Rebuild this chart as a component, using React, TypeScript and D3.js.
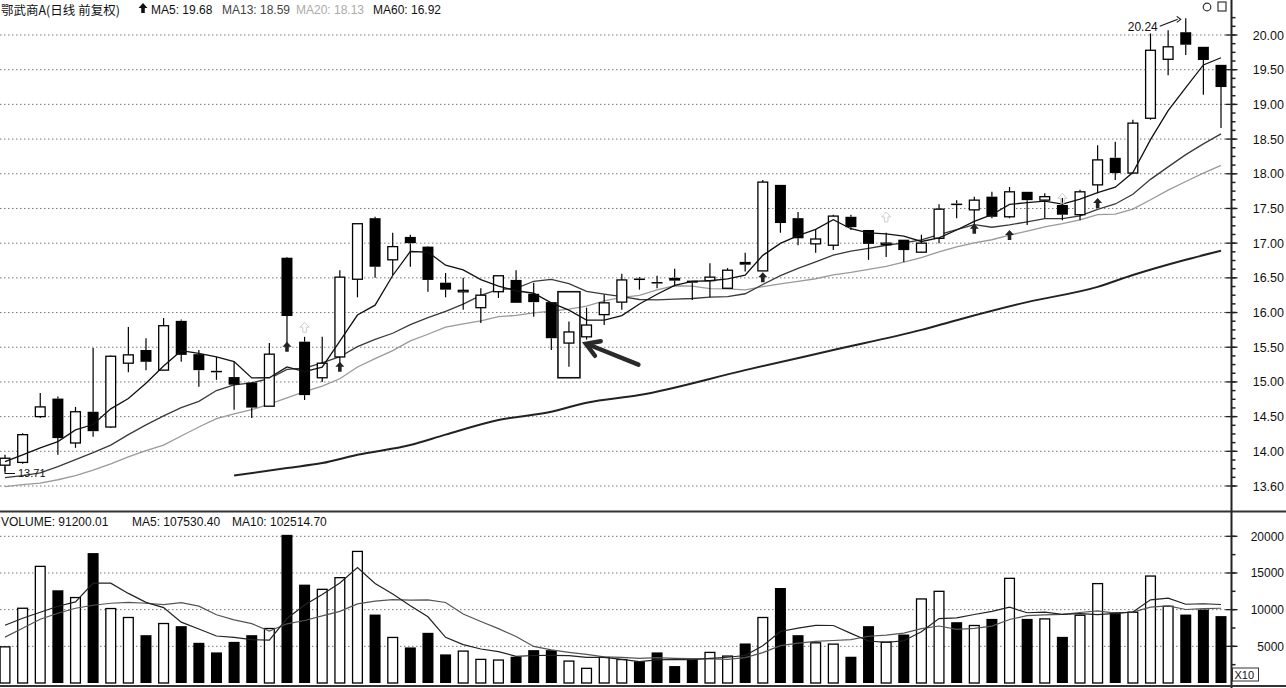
import React from "react";
import * as d3 from "d3";

// ---------------- DATA ----------------
const opens = [13.80,13.84,14.50,14.76,14.12,14.57,14.35,15.27,15.46,15.17,15.88,15.40,15.16,15.07,14.99,14.65,16.79,15.58,15.06,15.36,16.48,17.36,16.76,17.09,16.95,16.43,16.30,16.07,16.30,16.47,16.27,16.15,15.56,15.65,15.97,16.15,16.49,16.44,16.50,16.46,16.46,16.35,16.73,16.60,17.84,17.36,16.99,16.97,17.38,17.19,16.98,17.05,16.87,17.07,17.57,17.48,17.67,17.38,17.74,17.62,17.55,17.41,17.84,18.23,18.01,18.80,19.65,20.04,19.83,19.57];
const highs = [13.95,14.26,14.84,14.79,14.64,15.49,15.38,15.79,15.63,15.92,15.90,15.46,15.36,15.29,15.00,15.56,16.80,15.65,15.65,16.61,17.29,17.38,17.15,17.12,16.96,16.57,16.50,16.35,16.53,16.61,16.43,16.15,15.87,16.07,16.26,16.56,16.51,16.53,16.63,16.46,16.71,16.64,16.86,17.91,17.84,17.45,17.20,17.41,17.41,17.19,17.15,17.05,17.12,17.56,17.62,17.67,17.74,17.81,17.74,17.72,17.65,17.77,18.41,18.46,18.78,20.02,20.07,20.24,19.83,19.57];
const lows = [13.71,13.82,14.48,13.95,14.05,14.21,14.34,15.14,15.17,15.17,15.29,14.93,15.03,14.60,14.48,14.65,15.56,14.74,15.00,15.27,16.22,16.50,16.54,16.66,16.30,16.22,16.04,15.85,16.21,16.14,15.94,15.46,15.22,15.61,15.82,16.04,16.33,16.35,16.38,16.18,16.22,16.35,16.59,16.60,17.15,16.97,16.86,16.90,17.19,16.76,16.80,16.73,16.86,17.00,17.36,17.23,17.36,17.36,17.26,17.36,17.33,17.33,17.72,17.91,18.01,18.78,19.42,19.71,19.14,18.66];
const closes = [13.90,14.24,14.64,14.19,14.57,14.29,15.37,15.39,15.29,15.81,15.39,15.17,15.14,14.96,14.63,15.40,15.95,14.81,15.27,16.51,17.28,16.66,16.95,17.00,16.47,16.33,16.32,16.25,16.53,16.14,16.15,15.63,15.72,15.82,16.14,16.47,16.47,16.42,16.46,16.43,16.51,16.61,16.69,17.88,17.29,17.07,17.06,17.39,17.23,16.99,17.00,16.90,17.00,17.49,17.56,17.62,17.38,17.74,17.62,17.67,17.41,17.74,18.20,18.01,18.73,19.78,19.83,19.86,19.64,19.25];
const volumes = [4930,10190,15900,12640,11650,17710,10150,8930,6520,8110,7750,5480,4170,5610,6520,7430,20200,13410,12770,14360,17940,9330,6210,4850,6840,3900,4350,3220,3130,3580,4480,4480,2990,2000,3490,3200,2950,4170,2310,3220,4170,3670,5390,8930,12950,6520,5480,5300,3580,7750,5570,6610,11460,12500,8290,7840,8740,14270,8740,8740,6290,9240,13550,9650,9650,14580,10460,9330,10010,9120];

// moving-average values before a full window is available
const ma5Lead = [13.85,13.95,14.05,14.14];
const ma13Lead = [13.62,13.65,13.69,13.78,13.88,13.98,14.09,14.24,14.38,14.51,14.63,14.72];
const ma20Lead = [13.49,13.52,13.54,13.59,13.65,13.73,13.82,13.92,14.01,14.09,14.22,14.35,14.47,14.54,14.60,14.68,14.77,14.86,14.94];
const ma60Idx = [13,16,18,20,23,25,28,31,33,36,42,47,52,54,58,62,64,67,69];
const ma60Val = [13.65,13.76,13.83,13.95,14.09,14.24,14.45,14.57,14.70,14.81,15.17,15.46,15.75,15.89,16.15,16.37,16.54,16.76,16.89];
const volMa5Lead = [7880,8830,9650,10460];
const volMa10Lead = [6250,7470,8700,9510,10190,10600,10870,11000,10870];

const priceTicks = [13.5,14,14.5,15,15.5,16,16.5,17,17.5,18,18.5,19,19.5,20];
const priceTickLabels = ["13.60","14.00","14.50","15.00","15.50","16.00","16.50","17.00","17.50","18.00","18.50","19.00","19.50","20.00"];
const volTicks = [5000,10000,15000,20000];
const volTickLabels = ["5000","10000","15000","20000"];

const upArrowIdx = [16,19,43,55,57,62];
const upArrowPrice = [15.58,15.29,16.58,17.28,17.19,17.65];
const faintArrowIdx = [17,50,60];
const faintArrowPrice = [15.86,17.45,17.72];

const titleText = "鄂武商A(日线 前复权)";
const maLabels = ["MA5: 19.68","MA13: 18.59","MA20: 18.13","MA60: 16.92"];
const volLabels = ["VOLUME: 91200.01","MA5: 107530.40","MA10: 102514.70"];

const boxIdx = 32;
const boxTop = 16.30, boxBottom = 15.06;

// ---------------- HELPERS ----------------
function rolling(vals: number[], n: number, lead: number[]) {
  return vals.map((_, i) => {
    if (i < n - 1) return lead[i];
    return d3.mean(vals.slice(i - n + 1, i + 1)) as number;
  });
}

export default function App() {
  const W = 1286, H = 688;
  const axisX = 1231.5;
  const n = closes.length;
  const x = d3.scaleLinear().domain([0, n - 1]).range([5, 1221]);
  const y = d3.scaleLinear().domain([13.5, 20]).range([486, 35]);
  const yv = d3.scaleLinear().domain([0, 20000]).range([683, 536.3]);
  const bw = 11;

  const ma5 = rolling(closes, 5, ma5Lead);
  const ma13 = rolling(closes, 13, ma13Lead);
  const ma20 = rolling(closes, 20, ma20Lead);
  const vma5 = rolling(volumes, 5, volMa5Lead);
  const vma10 = rolling(volumes, 10, volMa10Lead);

  const pline = d3.line<number>().x((_, i) => x(i)).y((d) => y(d));
  const vline = d3.line<number>().x((_, i) => x(i)).y((d) => yv(d));
  const ma60Line = d3
    .line<number>()
    .x((_, i) => x(ma60Idx[i]))
    .y((d) => y(d))
    .curve(d3.curveMonotoneX);

  const minorPrice = d3.range(13.5, 20.3, 0.125);
  const minorVol = d3.range(2500, 21000, 2500);

  const maxI = d3.maxIndex(highs);
  const minI = d3.minIndex(lows);

  const arrowShape = (cx: number, ty: number) =>
    `M${cx},${ty} L${cx + 4.5},${ty + 5} L${cx + 1.8},${ty + 5} L${cx + 1.8},${ty + 10} L${cx - 1.8},${ty + 10} L${cx - 1.8},${ty + 5} L${cx - 4.5},${ty + 5} Z`;

  // big arrow
  const tipX = x(boxIdx) + 17, tipY = y(15.55);
  const tailX = x(boxIdx + 4) - 1, tailY = y(15.25);
  const ang = Math.atan2(tailY - tipY, tailX - tipX);
  const hl = 15, hw = 0.55;
  const h1 = [tipX + hl * Math.cos(ang + hw), tipY + hl * Math.sin(ang + hw)];
  const h2 = [tipX + hl * Math.cos(ang - hw), tipY + hl * Math.sin(ang - hw)];

  const fontSans = "'Liberation Sans', Arial, sans-serif";

  return (
    <svg
      width={W}
      height={H}
      style={{ position: "absolute", left: 0, top: 0, background: "#fff" }}
      fontFamily={fontSans}
    >
      <rect x={0} y={0} width={W} height={H} fill="#fff" />
      <defs>
        <clipPath id="pclip">
          <rect x={0} y={14} width={axisX} height={497} />
        </clipPath>
        <clipPath id="vclip">
          <rect x={0} y={530} width={axisX} height={155} />
        </clipPath>
      </defs>

      {/* header */}
      <text x={1} y={15} fontSize={12.5} fontFamily="'Noto Sans CJK SC', sans-serif" fill="#111">
        {titleText}
      </text>
      <path d={arrowShape(143, 3)} fill="#111" />
      <text x={151} y={14} fontSize={12} fill="#111">{maLabels[0]}</text>
      <text x={222} y={14} fontSize={12} fill="#444">{maLabels[1]}</text>
      <text x={296} y={14} fontSize={12} fill="#aaa">{maLabels[2]}</text>
      <text x={373} y={14} fontSize={12} fill="#111">{maLabels[3]}</text>

      {/* top right icons */}
      <circle cx={1207} cy={7} r={3.8} fill="none" stroke="#333" strokeWidth={1.2} />
      <rect x={1218} y={2} width={8} height={9} fill="none" stroke="#333" strokeWidth={1.2} />

      {/* price grid */}
      {priceTicks.map((t) => (
        <line key={"pg" + t} x1={0} x2={axisX} y1={y(t)} y2={y(t)} stroke="#777" strokeWidth={1} strokeDasharray="1.5 2.5" />
      ))}
      {/* volume grid */}
      {volTicks.map((t) => (
        <line key={"vg" + t} x1={0} x2={axisX} y1={yv(t)} y2={yv(t)} stroke="#777" strokeWidth={1} strokeDasharray="1.5 2.5" />
      ))}

      {/* price panel */}
      <g clipPath="url(#pclip)">
        <path d={ma60Line(ma60Val) || ""} fill="none" stroke="#222" strokeWidth={2} />
        <path d={pline(ma20) || ""} fill="none" stroke="#9a9a9a" strokeWidth={1.3} />
        <path d={pline(ma13) || ""} fill="none" stroke="#3a3a3a" strokeWidth={1.3} />
        {closes.map((c, i) => {
          const o = opens[i];
          const up = c >= o;
          const cx = x(i);
          const top = y(Math.max(o, c));
          let bot = y(Math.min(o, c));
          const hh = Math.max(bot - top, 1.5);
          bot = top + hh;
          return (
            <g key={"c" + i}>
              <line x1={cx} x2={cx} y1={y(highs[i])} y2={top} stroke="#000" strokeWidth={1.2} />
              <line x1={cx} x2={cx} y1={bot} y2={y(lows[i])} stroke="#000" strokeWidth={1.2} />
              {up ? (
                <rect x={cx - bw / 2 + 0.6} y={top} width={bw - 1.2} height={hh} fill="#fff" stroke="#000" strokeWidth={1.3} />
              ) : (
                <rect x={cx - bw / 2} y={top} width={bw} height={hh} fill="#000" />
              )}
            </g>
          );
        })}
        <path d={pline(ma5) || ""} fill="none" stroke="#111" strokeWidth={1.3} />

        {upArrowIdx.map((idx, k) => (
          <path key={"ua" + k} d={arrowShape(x(idx), y(upArrowPrice[k]))} fill="#222" />
        ))}
        {faintArrowIdx.map((idx, k) => (
          <path key={"fa" + k} d={arrowShape(x(idx), y(faintArrowPrice[k]))} fill="none" stroke="#ccc" strokeWidth={1} />
        ))}

        {/* highlight box */}
        <rect x={x(boxIdx) - 11} y={y(boxTop)} width={22} height={y(boxBottom) - y(boxTop)} fill="none" stroke="#111" strokeWidth={1.6} />
        {/* big arrow */}
        <line x1={tailX} y1={tailY} x2={tipX + 3} y2={tipY + 1} stroke="#2a2a2a" strokeWidth={4.5} strokeLinecap="round" />
        <path d={`M${h1[0]},${h1[1]} L${tipX},${tipY} L${h2[0]},${h2[1]}`} fill="none" stroke="#2a2a2a" strokeWidth={4.5} strokeLinejoin="miter" strokeLinecap="round" />

        {/* max label */}
        <text x={x(maxI) - 28} y={y(highs[maxI]) + 13} fontSize={12} textAnchor="end" fill="#111">
          {highs[maxI].toFixed(2)}
        </text>
        <path
          d={`M${x(maxI) - 26},${y(highs[maxI]) + 8} L${x(maxI) - 8},${y(highs[maxI]) + 1}`}
          fill="none" stroke="#111" strokeWidth={1.1}
        />
        <path
          d={`M${x(maxI) - 9},${y(highs[maxI]) - 2} L${x(maxI) - 5},${y(highs[maxI]) + 1} L${x(maxI) - 9},${y(highs[maxI]) + 4}`}
          fill="none" stroke="#111" strokeWidth={1.1}
        />
        {/* min label */}
        <path
          d={`M${x(minI)},${y(lows[minI]) - 5} L${x(minI)},${y(lows[minI]) + 2} L${x(minI) + 10},${y(lows[minI]) + 2}`}
          fill="none" stroke="#111" strokeWidth={1.1}
        />
        <text x={x(minI) + 13} y={y(lows[minI]) + 6} fontSize={11} fill="#111">
          {lows[minI].toFixed(2)}
        </text>
      </g>

      {/* panel separator */}
      <line x1={0} x2={W} y1={511.5} y2={511.5} stroke="#333" strokeWidth={2} />

      {/* volume header */}
      <text x={1} y={526} fontSize={12} fill="#111">{volLabels[0]}</text>
      <text x={132} y={526} fontSize={12} fill="#111">{volLabels[1]}</text>
      <text x={232} y={526} fontSize={12} fill="#111">{volLabels[2]}</text>

      {/* volume bars */}
      <g clipPath="url(#vclip)">
        {volumes.map((v, i) => {
          const up = closes[i] >= opens[i];
          const cx = x(i);
          return up ? (
            <rect key={"v" + i} x={cx - bw / 2 + 0.6} y={yv(v)} width={bw - 1.2} height={yv(0) - yv(v)} fill="#fff" stroke="#000" strokeWidth={1.3} />
          ) : (
            <rect key={"v" + i} x={cx - bw / 2} y={yv(v)} width={bw} height={yv(0) - yv(v)} fill="#000" />
          );
        })}
        <path d={vline(vma10) || ""} fill="none" stroke="#555" strokeWidth={1.2} />
        <path d={vline(vma5) || ""} fill="none" stroke="#222" strokeWidth={1.2} />
      </g>

      {/* right axis */}
      <line x1={axisX} x2={axisX} y1={0} y2={H} stroke="#222" strokeWidth={2} />
      {minorPrice.map((t, k) => (
        <line key={"mp" + k} x1={axisX} x2={axisX + 4} y1={y(t)} y2={y(t)} stroke="#222" strokeWidth={1.5} />
      ))}
      {priceTicks.map((t, k) => (
        <g key={"pt" + t}>
          <line x1={axisX - 6} x2={axisX + 6} y1={y(t)} y2={y(t)} stroke="#222" strokeWidth={1.3} />
          <text x={1284} y={y(t) + 4.5} fontSize={12.5} textAnchor="end" fill="#111">{priceTickLabels[k]}</text>
        </g>
      ))}
      {minorVol.map((t, k) => (
        <line key={"mv" + k} x1={axisX} x2={axisX + 4} y1={yv(t)} y2={yv(t)} stroke="#222" strokeWidth={1.5} />
      ))}
      {volTicks.map((t, k) => (
        <g key={"vt" + t}>
          <line x1={axisX - 6} x2={axisX + 6} y1={yv(t)} y2={yv(t)} stroke="#222" strokeWidth={1.3} />
          <text x={1284} y={yv(t) + 4.5} fontSize={12} textAnchor="end" fill="#111">{volTickLabels[k]}</text>
        </g>
      ))}
      <rect x={axisX + 1} y={668} width={26} height={13} fill="#fff" stroke="#333" strokeWidth={1} />
      <text x={axisX + 3} y={679} fontSize={11} fill="#111">X10</text>

      {/* bottom border */}
      <line x1={0} x2={W} y1={686} y2={686} stroke="#333" strokeWidth={2} />
    </svg>
  );
}
